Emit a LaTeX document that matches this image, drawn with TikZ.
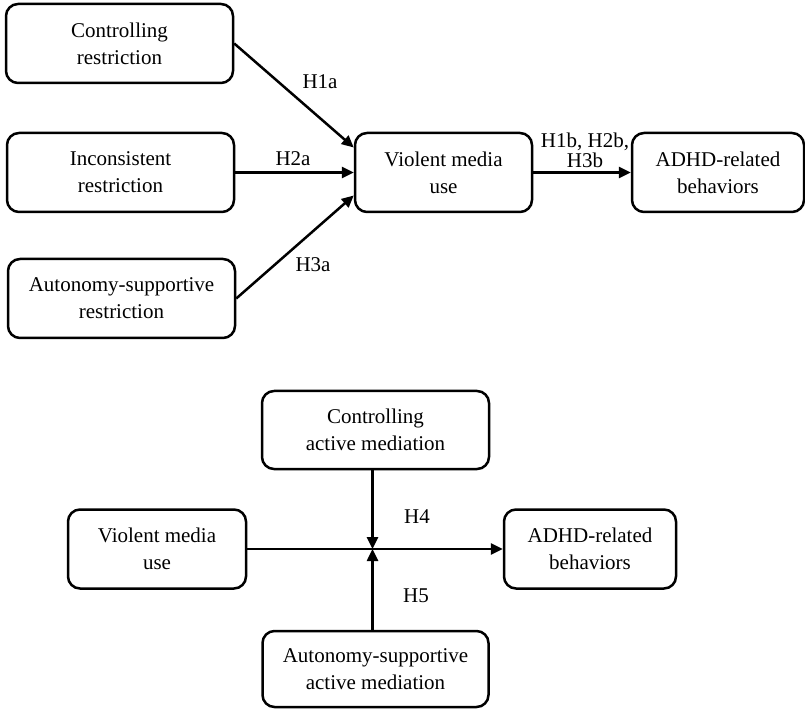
\documentclass[tikz,border=0pt]{standalone}
\usepackage{fontspec}
\setmainfont{Liberation Serif}
\usetikzlibrary{arrows.meta}
\tikzset{
  box/.style={draw,line width=2.5pt,rounded corners=12pt,align=center,inner sep=0pt,minimum height=79pt},
  link/.style={line width=2.5pt,-{Triangle[length=12pt,width=11pt]}}
}
\begin{document}
\begin{tikzpicture}[x=1pt,y=1pt,line join=round,font=\fontsize{21}{27}\selectfont]
			\useasboundingbox (0,0) rectangle (805,710);
			% upper model
			\node[box,minimum width=227pt] (cr) at (119.5,666.5) {Controlling\\restriction};
			\node[box,minimum width=227pt] (ir) at (120.5,537.5) {Inconsistent\\restriction};
			\node[box,minimum width=227pt] (ar) at (121.5,411.5) {Autonomy-supportive\\restriction};
			\node[box,minimum width=177pt] (vm) at (443.5,537.5) {Violent media\\use};
			\node[box,minimum width=172pt] (ad) at (718,537.5) {ADHD-related\\behaviors};
			\coordinate (vmA) at ([yshift=25pt]vm.west);
			\coordinate (vmC) at ([yshift=-23pt]vm.west);
			\draw[link] (cr.east)--(vmA);
			\draw[link] (ir.east)--(vm.west);
			\draw[link] (ar.east)--(vmC);
			\draw[link] (vm.east)--(ad.west);
			% lower model
			\node[box,minimum width=227pt,minimum height=78pt] (cam) at (375.5,280) {Controlling\\active mediation};
			\node[box,minimum width=178pt] (vmb) at (157,161) {Violent media\\use};
			\node[box,minimum width=172pt] (adb) at (590,161) {ADHD-related\\behaviors};
			\node[box,minimum width=226pt,minimum height=76pt] (asm) at (375.5,41) {Autonomy-supportive\\active mediation};
			\coordinate (mod) at ([xshift=-3pt]cam.south |- vmb.east);
			\draw[link] ([xshift=-3pt]cam.south)--(mod);
			\draw[link] ([xshift=-3pt]asm.north)--(mod);
			\draw[link] (vmb.east)--(adb.west);
			% path labels
			\foreach \p/\n/\l in {{320,628}/h1a/H1a,{293,551}/h2a/H2a,{313,445}/h3a/H3a,{585,560}/hb/{H1b, H2b,\\[-7pt]H3b},{417,193}/h4/H4,{416,114}/h5/H5}
				\node[align=center,inner sep=0pt] (\n) at (\p) {\l};
		\end{tikzpicture}
\end{document}
